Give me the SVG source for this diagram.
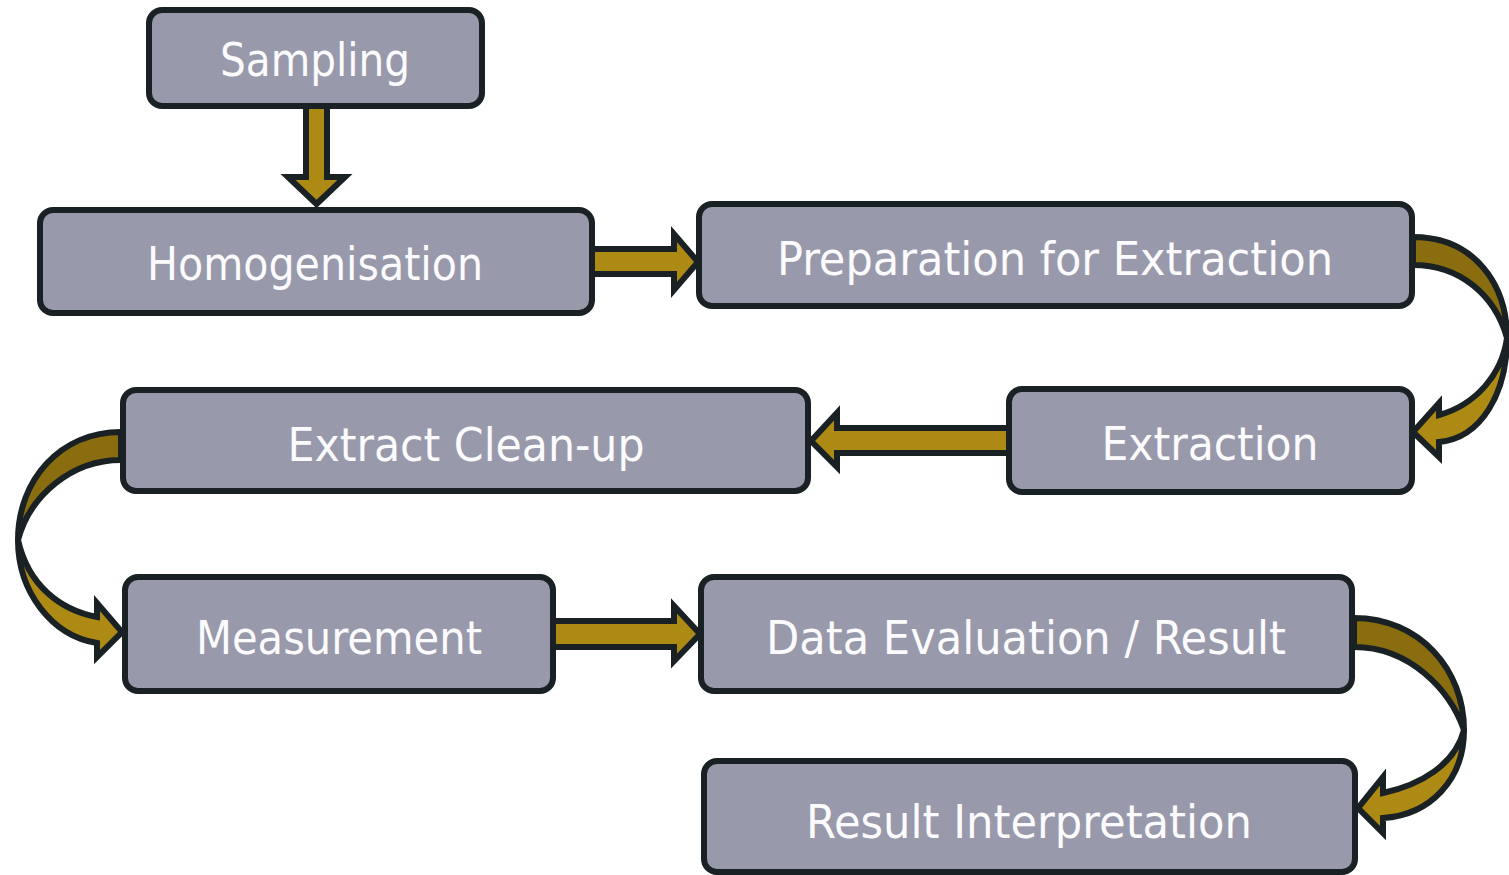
<svg xmlns="http://www.w3.org/2000/svg" width="1509" height="875" viewBox="0 0 1509 875">
  <style>
    .box { fill: #9899aa; stroke: #1a2125; stroke-width: 6; }
    .lbl { font-family: "DejaVu Sans Condensed", "DejaVu Sans", sans-serif; font-size: 47px; fill: #fbfbfd; text-anchor: middle; }
    .arr { fill: #ad8a14; stroke: #1a2125; stroke-width: 6; stroke-linejoin: miter; }
    .back { fill: #8a6d0f; stroke: #1a2125; stroke-width: 6; stroke-linejoin: round; }
    .front { fill: #ad8a14; stroke: #1a2125; stroke-width: 6; stroke-linejoin: miter; }
  </style>
  <rect width="1509" height="875" fill="#ffffff"/>

  <!-- connectors -->
  <g id="connectors">
    <!-- Sampling -> Homogenisation -->
    <path class="arr" d="M306,106 L306,177 L288,177 L316.5,204 L345,177 L327,177 L327,106 Z"/>
    <!-- Homogenisation -> Preparation for Extraction -->
    <path class="arr" d="M592,249 L674,249 L674,234 L698,262 L674,290 L674,274 L592,274 Z"/>
    <!-- Preparation for Extraction -> Extraction (curved, right side) -->
    <path class="back" d="M1413,237 C1475,237 1507,285 1507,338 C1495,295 1460,265 1413,265 Z"/>
    <path class="front" d="M1507,338 C1507,392 1482,438 1439,442 L1439,457 L1413,432 L1439,403 L1439,415 C1475,405 1502,375 1507,338 Z"/>
    <!-- Extraction -> Extract Clean-up -->
    <path class="arr" d="M1009,428 L837,428 L837,413 L811,441 L837,467 L837,453 L1009,453 Z"/>
    <!-- Extract Clean-up -> Measurement (curved, left side) -->
    <path class="back" d="M121,432 C60,432 18,480 18,540 C30,495 72,460 121,460 Z"/>
    <path class="front" d="M18,540 C18,592 52,636 97,643 L97,657 L122,632 L97,603 L97,617 C60,610 28,585 18,540 Z"/>
    <!-- Measurement -> Data Evaluation / Result -->
    <path class="arr" d="M553,621 L674,621 L674,606 L700,634 L674,661 L674,647 L553,647 Z"/>
    <!-- Data Evaluation / Result -> Result Interpretation (curved, right side) -->
    <path class="back" d="M1354,618 C1420,618 1464,670 1464,730 C1450,690 1410,647 1354,647 Z"/>
    <path class="front" d="M1464,730 C1464,780 1430,815 1383,818 L1383,833 L1358,808 L1383,777 L1383,793 C1420,785 1455,765 1464,730 Z"/>
  </g>

  <!-- nodes -->
  <g id="sampling">
    <rect class="box" x="149" y="10" width="333" height="96" rx="13"/>
    <text class="lbl" x="315" y="76" textLength="190" lengthAdjust="spacingAndGlyphs">Sampling</text>
  </g>
  <g id="homogenisation">
    <rect class="box" x="40" y="210" width="552" height="103" rx="13"/>
    <text class="lbl" x="315" y="280" textLength="336" lengthAdjust="spacingAndGlyphs">Homogenisation</text>
  </g>
  <g id="preparation">
    <rect class="box" x="699" y="204" width="713" height="102" rx="13"/>
    <text class="lbl" x="1055" y="275" textLength="556" lengthAdjust="spacingAndGlyphs">Preparation for Extraction</text>
  </g>
  <g id="extraction">
    <rect class="box" x="1009" y="389" width="403" height="103" rx="13"/>
    <text class="lbl" x="1210" y="460" textLength="217" lengthAdjust="spacingAndGlyphs">Extraction</text>
  </g>
  <g id="cleanup">
    <rect class="box" x="123" y="390" width="685" height="101" rx="13"/>
    <text class="lbl" x="466" y="461" textLength="357" lengthAdjust="spacingAndGlyphs">Extract Clean-up</text>
  </g>
  <g id="measurement">
    <rect class="box" x="125" y="577" width="428" height="114" rx="13"/>
    <text class="lbl" x="339" y="654" textLength="286" lengthAdjust="spacingAndGlyphs">Measurement</text>
  </g>
  <g id="evaluation">
    <rect class="box" x="701" y="577" width="651" height="114" rx="13"/>
    <text class="lbl" x="1026" y="654" textLength="520" lengthAdjust="spacingAndGlyphs">Data Evaluation / Result</text>
  </g>
  <g id="interpretation">
    <rect class="box" x="704" y="761" width="651" height="111" rx="13"/>
    <text class="lbl" x="1029" y="838" textLength="446" lengthAdjust="spacingAndGlyphs">Result Interpretation</text>
  </g>
</svg>
